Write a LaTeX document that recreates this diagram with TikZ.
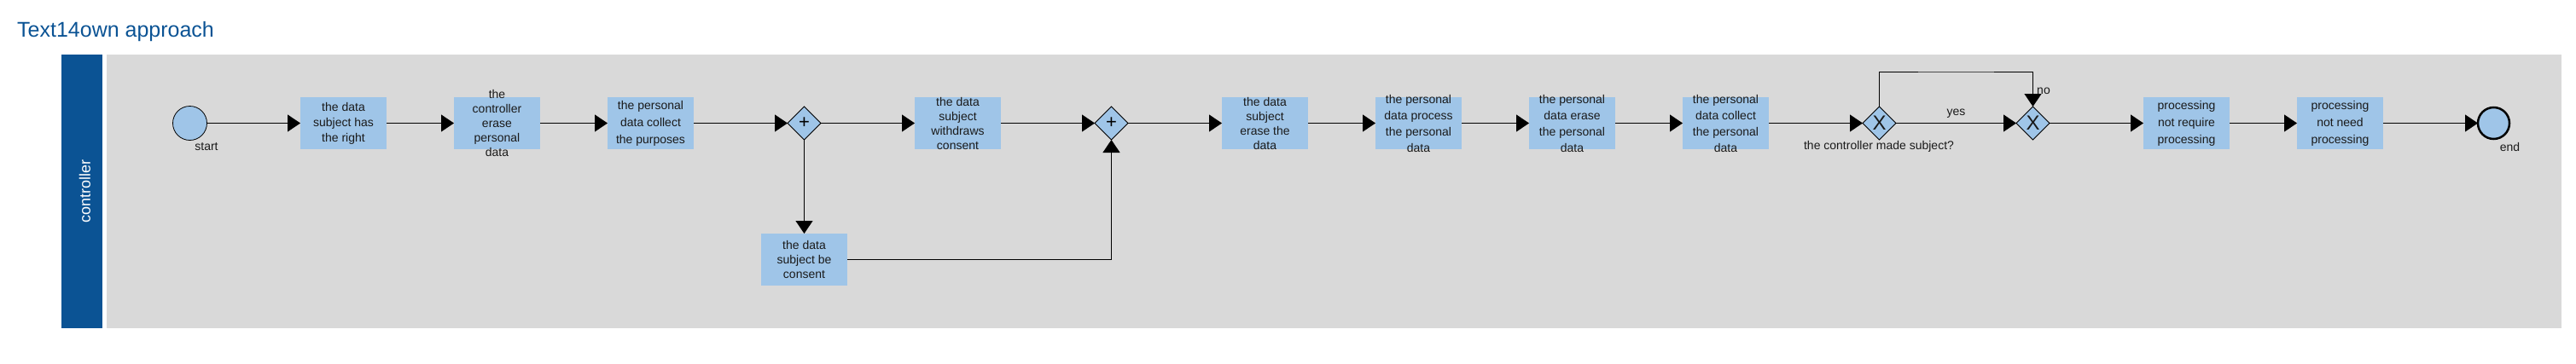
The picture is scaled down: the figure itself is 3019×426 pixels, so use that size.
\documentclass[tikz,border=0pt]{standalone}
\usepackage{fontspec}
\setmainfont{Liberation Sans}
\usetikzlibrary{arrows.meta,shapes.geometric}
\definecolor{lanegray}{HTML}{D9D9D9}
\definecolor{taskblue}{HTML}{9FC5E8}
\definecolor{darkblue}{HTML}{0B5394}
\definecolor{inkgray}{HTML}{1A1A1A}
\begin{document}
\begin{tikzpicture}[x=1pt,y=-1pt,
  flow/.style={line width=1pt, -{Triangle[length=15pt,width=20pt]}},
  taskbox/.style={fill=taskblue, minimum width=101pt, minimum height=61pt, inner sep=0pt, outer sep=0pt},
  tasktext/.style={align=center, inner sep=0pt, text=inkgray, font=\fontsize{14}{#1}\selectfont},
  tasktext/.default=17,
  gateway/.style={diamond, aspect=1, draw=black, line width=0.8pt, fill=taskblue, minimum width=39pt, minimum height=39pt, inner sep=0pt, outer sep=0pt},
  startev/.style={circle, draw=black, line width=0.8pt, fill=taskblue, minimum size=40pt, inner sep=0pt, outer sep=0pt},
  endev/.style={circle, draw=black, line width=2.5pt, fill=taskblue, minimum size=37pt, inner sep=0pt, outer sep=0pt},
  lbl/.style={font=\fontsize{14}{16}\selectfont, text=inkgray, inner sep=0pt},
  lanehead/.style={fill=darkblue, minimum width=48pt, minimum height=321pt, inner sep=0pt},
  lanebody/.style={fill=lanegray, minimum width=2877pt, minimum height=321pt, inner sep=0pt}
]
\useasboundingbox (0,0) rectangle (3019,426);
\node[anchor=base west, font=\fontsize{25}{30}\selectfont, text=darkblue, inner sep=0pt] (title) at (20,43) {Text14own approach};
\node[lanehead] (head) at (96,224.5) {};
\node[lanebody] (body) at (1563.5,224.5) {};
\node[rotate=90, text=white, font=\fontsize{18}{20}\selectfont, inner sep=0pt] (lanename) at (99.5,224.5) {controller};

% events
\node[startev] (start) at (222.5,144.5) {};
\node[lbl] (startlbl) at (242,172) {start};
\node[endev] (end) at (2922.5,144.5) {};
\node[lbl] (endlbl) at (2941.5,172) {end};

% tasks
\node[taskbox] (t1) at (402.5,144.5) {};
\node[tasktext=18] (t1txt) at (t1) {the data\\subject has\\the right};
\node[taskbox] (t2) at (582.5,144.5) {};
\node[tasktext=17] (t2txt) at (t2) {the\\controller\\erase\\personal\\data};
\node[taskbox] (t3) at (762.5,144.5) {};
\node[tasktext=20] (t3txt) at (t3) {the personal\\data collect\\the purposes};
\node[taskbox] (t4) at (942.5,304.5) {};
\node[tasktext=17] (t4txt) at (t4) {the data\\subject be\\consent};
\node[taskbox] (t5) at (1122.5,144.5) {};
\node[tasktext=17] (t5txt) at (t5) {the data\\subject\\withdraws\\consent};
\node[taskbox] (t6) at (1482.5,144.5) {};
\node[tasktext=17] (t6txt) at (t6) {the data\\subject\\erase the\\data};
\node[taskbox] (t7) at (1662.5,144.5) {};
\node[tasktext=19] (t7txt) at (t7) {the personal\\data process\\the personal\\data};
\node[taskbox] (t8) at (1842.5,144.5) {};
\node[tasktext=19] (t8txt) at (t8) {the personal\\data erase\\the personal\\data};
\node[taskbox] (t9) at (2022.5,144.5) {};
\node[tasktext=19] (t9txt) at (t9) {the personal\\data collect\\the personal\\data};
\node[taskbox] (t10) at (2562.5,144.5) {};
\node[tasktext=20] (t10txt) at (t10) {processing\\not require\\processing};
\node[taskbox] (t11) at (2742.5,144.5) {};
\node[tasktext=20] (t11txt) at (t11) {processing\\not need\\processing};

% gateways
\node[gateway, font=\fontsize{22}{22}\selectfont] (g1) at (942.5,144.5) {+};
\node[gateway, font=\fontsize{22}{22}\selectfont] (g2) at (1302.5,144.5) {+};
\node[gateway, font=\fontsize{24}{24}\selectfont, text=inkgray] (x1) at (2202.5,144.5) {X};
\node[gateway, font=\fontsize{24}{24}\selectfont, text=inkgray] (x2) at (2382.5,144.5) {X};
\node[lbl] (x1lbl) at (2202,172) {the controller made subject?};

% connectors
\draw[flow] (start) -- (t1);
\draw[flow] (t1) -- (t2);
\draw[flow] (t2) -- (t3);
\draw[flow] (t3) -- (g1);
\draw[flow] (g1) -- (t5);
\draw[flow] (g1.south) -- (t4.north);
\draw[flow] (t4.east) -| (g2.south);
\draw[flow] (t5) -- (g2);
\draw[flow] (g2) -- (t6);
\draw[flow] (t6) -- (t7);
\draw[flow] (t7) -- (t8);
\draw[flow] (t8) -- (t9);
\draw[flow] (t9) -- (x1);
\draw[flow] (x1) -- node[lbl, above=6pt, pos=0.5] (yeslbl) {yes} (x2);
\coordinate (looptop) at (2292.5,84);
\draw[flow] (x1.north) |- (looptop) -| (x2.north);
\node[lbl] (nolbl) at (2395,107) {no};
\draw[flow] (x2) -- (t10);
\draw[flow] (t10) -- (t11);
\draw[flow] (t11) -- (end);
\end{tikzpicture}
\end{document}
